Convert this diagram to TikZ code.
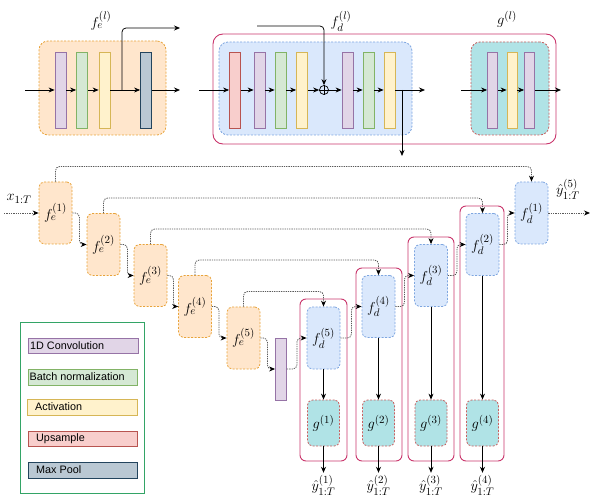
\documentclass[tikz,border=0pt]{standalone}
\usepackage{fontspec}
\newfontfamily\legfont{Liberation Sans}
\usetikzlibrary{arrows.meta,calc}
\definecolor{cenc}{HTML}{FFE6CC}\definecolor{senc}{HTML}{E8A33A}
\definecolor{cdec}{HTML}{DAE8FC}\definecolor{sdec}{HTML}{7EA6E0}
\definecolor{cg}{HTML}{B0E3E6}\definecolor{sg}{HTML}{C86060}
\definecolor{ccrim}{HTML}{C9356B}\definecolor{cgray}{HTML}{5A5A5A}
\definecolor{cconv}{HTML}{E1D5E7}\definecolor{sconv}{HTML}{9673A6}
\definecolor{cbn}{HTML}{D5E8D4}\definecolor{sbn}{HTML}{82B366}
\definecolor{cact}{HTML}{FFF2CC}\definecolor{sact}{HTML}{D6B656}
\definecolor{cup}{HTML}{F8CECC}\definecolor{sup2}{HTML}{B85450}
\definecolor{cmp}{HTML}{BAC8D3}\definecolor{smp}{HTML}{23445D}
\definecolor{cleg}{HTML}{33A466}
\begin{document}
\begin{tikzpicture}[x=1pt,y=-1pt,
  bar/.style={draw, line width=0.8pt, minimum width=11, minimum height=76, inner sep=0},
  convb/.style={bar, fill=cconv, draw=sconv},
  bnb/.style={bar, fill=cbn, draw=sbn},
  actb/.style={bar, fill=cact, draw=sact},
  upb/.style={bar, fill=cup, draw=sup2},
  mpb/.style={bar, fill=cmp, draw=smp},
  dsh/.style={dash pattern=on 2pt off 1.5pt, line width=0.8pt},
  encn/.style={dsh, draw=senc, fill=cenc, rounded corners=5pt, minimum width=33, minimum height=62, inner sep=0, font=\fontsize{15}{17}\selectfont},
  decn/.style={dsh, draw=sdec, fill=cdec, rounded corners=5pt, minimum width=33, minimum height=62, inner sep=0, font=\fontsize{15}{17}\selectfont},
  gn/.style={dsh, draw=sg, fill=cg, rounded corners=5pt, minimum width=32, minimum height=46, inner sep=0, font=\fontsize{15}{17}\selectfont},
  crimbox/.style={draw=ccrim, line width=0.9pt, rounded corners=6pt},
  dotc/.style={draw=cgray, dash pattern=on 1.3pt off 1pt, line width=0.8pt, rounded corners=4pt, -{Stealth[length=6pt,width=5pt,black]}},
  arr/.style={-{Stealth[length=6pt,width=5pt]}, line width=0.75pt, draw=black},
  lab/.style={font=\fontsize{15}{17}\selectfont, inner sep=0},
  legitem/.style={draw, line width=0.8pt, minimum width=110, minimum height=16, inner sep=0},
  legtxt/.style={anchor=west, inner sep=0, font=\legfont\fontsize{10.8}{12}\selectfont}
]
\useasboundingbox (0,0) rectangle (598,500);

% ---------- top: encoder block ----------
\node[dsh, draw=senc, fill=cenc, rounded corners=9pt, minimum width=127, minimum height=94, inner sep=0] (EB) at (102.5,88) {};
\node[convb] (tp1) at (60.5,90) {};
\node[bnb] (tb1) at (82,90) {};
\node[actb] (ta1) at (104.5,90) {};
\node[mpb] (tm1) at (146,90) {};
\coordinate (ein) at (25,90);
\coordinate (ebr) at (122,90);
\coordinate (ebo) at (180,28);
\coordinate (eout) at (180,90);
\draw[arr] (ein) -- (tp1);
\draw[arr] (tp1) -- (tb1);
\draw[arr] (tb1) -- (ta1);
\draw[arr] (ta1) -- (tm1);
\draw[arr, rounded corners=4pt] (ebr) |- (ebo);
\draw[arr] (tm1) -- (eout);
\node[lab] (lfe) at (101,21) {$f_e^{(l)}$};

% ---------- top: decoder block ----------
\node[crimbox, rounded corners=10pt, minimum width=343, minimum height=110, inner sep=0] (DO) at (384.5,89) {};
\node[dsh, draw=sdec, fill=cdec, rounded corners=9pt, minimum width=193, minimum height=93, inner sep=0] (DB) at (315.5,88.5) {};
\node[upb] (tu) at (235,90) {};
\node[convb] (tp2) at (259.5,90) {};
\node[bnb] (tb2) at (280.5,90) {};
\node[actb] (ta2) at (302,90) {};
\node[circle, draw, line width=0.7pt, minimum size=9, inner sep=0] (plus) at (324,90) {};
\draw[line width=0.7pt] (plus.north) -- (plus.south) (plus.west) -- (plus.east);
\node[convb] (tp3) at (347.5,90) {};
\node[bnb] (tb3) at (368.5,90) {};
\node[actb] (ta3) at (389.5,90) {};
\coordinate (din) at (199,90);
\coordinate (ftop) at (257,26);
\coordinate (dout) at (425,90);
\coordinate (dbr) at (402,90);
\coordinate (dbo) at (402,156);
\draw[arr] (din) -- (tu);
\draw[arr] (tu) -- (tp2);
\draw[arr] (tp2) -- (tb2);
\draw[arr] (tb2) -- (ta2);
\draw[arr] (ta2) -- (plus);
\draw[arr] (plus) -- (tp3);
\draw[arr] (tp3) -- (tb3);
\draw[arr] (tb3) -- (ta3);
\draw[arr] (ta3) -- (dout);
\draw[arr] (dbr) -- (dbo);
\draw[arr, rounded corners=4pt] (ftop) -| (plus.north);
\node[lab] (lfd) at (341,21) {$f_d^{(l)}$};

% ---------- top: g block ----------
\node[dsh, draw=sg, fill=cg, rounded corners=9pt, minimum width=78, minimum height=93, inner sep=0] (GB) at (510,88.5) {};
\node[convb, minimum width=10] (gp1) at (492.5,90) {};
\node[actb, minimum width=10] (ga1) at (512,90) {};
\node[convb, minimum width=10] (gp2) at (529.5,90) {};
\coordinate (gin) at (461,90);
\coordinate (gout) at (561,90);
\draw[arr] (gin) -- (gp1);
\draw[arr] (gp1) -- (ga1);
\draw[arr] (ga1) -- (gp2);
\draw[arr] (gp2) -- (gout);
\node[lab] (lg) at (507,19) {$g^{(l)}$};

% ---------- crimson groups ----------
\coordinate (c5a) at (300,299); \coordinate (c5b) at (347,461);
\coordinate (c4a) at (356,268); \coordinate (c4b) at (402,461);
\coordinate (c3a) at (408,237); \coordinate (c3b) at (454,461);
\coordinate (c2a) at (460,206); \coordinate (c2b) at (504,461);
\draw[crimbox] (c5a) rectangle (c5b);
\draw[crimbox] (c4a) rectangle (c4b);
\draw[crimbox] (c3a) rectangle (c3b);
\draw[crimbox] (c2a) rectangle (c2b);

% ---------- encoder chain ----------
\node[encn] (e1) at (55.5,213) {$f_e^{(1)}$};
\node[encn] (e2) at (103.5,244.5) {$f_e^{(2)}$};
\node[encn] (e3) at (150.5,275.5) {$f_e^{(3)}$};
\node[encn] (e4) at (195,306.5) {$f_e^{(4)}$};
\node[encn] (e5) at (243.5,338) {$f_e^{(5)}$};
\node[convb, minimum height=62] (bn) at (281,369) {};

% ---------- decoder chain ----------
\node[decn] (d1) at (531.5,213) {$f_d^{(1)}$};
\node[decn] (d2) at (482.5,244.5) {$f_d^{(2)}$};
\node[decn] (d3) at (431,275.5) {$f_d^{(3)}$};
\node[decn] (d4) at (378.5,306.5) {$f_d^{(4)}$};
\node[decn] (d5) at (323.5,338) {$f_d^{(5)}$};

\node[gn] (g1) at (323.5,423) {$g^{(1)}$};
\node[gn] (g2) at (378.5,423) {$g^{(2)}$};
\node[gn] (g3) at (431,423) {$g^{(3)}$};
\node[gn] (g4) at (482.5,423) {$g^{(4)}$};

% input / output
\coordinate (xin) at (4,213);
\coordinate (yout) at (590,213);
\node[lab] (lx) at (19,199) {$x_{1:T}$};
\node[lab] (ly5) at (568,189) {$\hat{y}_{1:T}^{(5)}$};
\draw[dotc] (xin) -- (e1);
\draw[dotc] (d1) -- (yout);

% chain connectors
\draw[dotc] (e1.east) -- ++(7,0) |- (e2.west);
\draw[dotc] (e2.east) -- ++(7,0) |- (e3.west);
\draw[dotc] (e3.east) -- ++(6,0) |- (e4.west);
\draw[dotc] (e4.east) -- ++(7,0) |- (e5.west);
\draw[dotc] (e5.east) -- ++(7,0) |- (bn.west);
\draw[dotc] (bn.east) -- ++(10,0) |- (d5.west);
\draw[dotc] (d5.east) -- ++(11,0) |- (d4.west);
\draw[dotc] (d4.east) -- ++(9,0) |- (d3.west);
\draw[dotc] (d3.east) -- ++(9,0) |- (d2.west);
\draw[dotc] (d2.east) -- ++(8,0) |- (d1.west);

% skip connections
\draw[dotc] (e1.north) -- ++(0,-15) -| (d1.north);
\draw[dotc] (e2.north) -- ++(0,-15) -| (d2.north);
\draw[dotc] (e3.north) -- ++(0,-15) -| (d3.north);
\draw[dotc] (e4.north) -- ++(0,-15) -| (d4.north);
\draw[dotc] (e5.north) -- ++(0,-15) -| (d5.north);

% decoder to heads
\draw[arr] (d5) -- (g1);
\draw[arr] (d4) -- (g2);
\draw[arr] (d3) -- (g3);
\draw[arr] (d2) -- (g4);

\node[lab] (ly1) at (323.5,485) {$\hat{y}_{1:T}^{(1)}$};
\node[lab] (ly2) at (378.5,485) {$\hat{y}_{1:T}^{(2)}$};
\node[lab] (ly3) at (431,485) {$\hat{y}_{1:T}^{(3)}$};
\node[lab] (ly4) at (482.5,485) {$\hat{y}_{1:T}^{(4)}$};
\draw[arr, shorten >=2pt] (g1.south) -- (ly1.north);
\draw[arr, shorten >=2pt] (g2.south) -- (ly2.north);
\draw[arr, shorten >=2pt] (g3.south) -- (ly3.north);
\draw[arr, shorten >=2pt] (g4.south) -- (ly4.north);

% ---------- legend ----------
\node[draw=cleg, line width=0.9pt, minimum width=124, minimum height=171, inner sep=0] (leg) at (82,407.5) {};
\node[legitem, fill=cconv, draw=sconv, minimum height=15] (lc) at (83,345.5) {};
\node[legitem, fill=cbn, draw=sbn, minimum width=109] (lb) at (82.5,377) {};
\node[legitem, fill=cact, draw=sact] (la) at (82,407) {};
\node[legitem, fill=cup, draw=sup2, minimum width=109, minimum height=15] (lu) at (82.5,438.5) {};
\node[legitem, fill=cmp, draw=smp, minimum width=109] (lm) at (82.5,470) {};
\node[legtxt] (tc) at (30,345.5) {1D Convolution};
\node[legtxt] (tb) at (29.5,377) {Batch normalization};
\node[legtxt] (ta) at (35,407) {Activation};
\node[legtxt] (tu2) at (36,438.5) {Upsample};
\node[legtxt] (tm) at (36,470) {Max Pool};
\end{tikzpicture}
\end{document}
